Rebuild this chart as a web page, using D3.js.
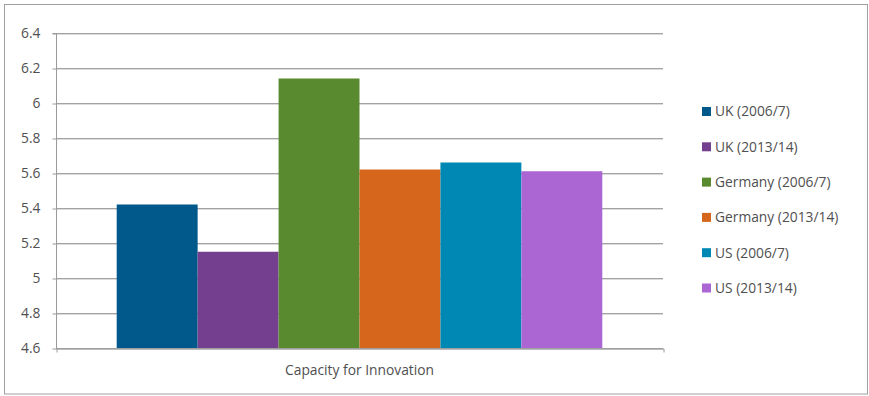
<!DOCTYPE html>
<html>
<head>
<meta charset="utf-8">
<script src="https://cdn.jsdelivr.net/npm/d3@7"></script>
<style>
  html, body { margin: 0; padding: 0; background: #fff; }
  svg text { font-family: "Open Sans", "Liberation Sans", sans-serif; fill: #505050; }
</style>
</head>
<body>
<svg id="chart" width="869" height="396"></svg>
<script>
// Capacity for Innovation scores by country and survey period
const categories = ["Capacity for Innovation"];
const seriesNames = ["UK (2006/7)", "UK (2013/14)", "Germany (2006/7)", "Germany (2013/14)", "US (2006/7)", "US (2013/14)"];
const seriesValues = [5.42, 5.15, 6.14, 5.62, 5.66, 5.61];
const seriesColors = ["#01588a", "#743f8e", "#5a8a2f", "#d6661c", "#0088b4", "#ac66d3"];
const yTicks = [4.6, 4.8, 5.0, 5.2, 5.4, 5.6, 5.8, 6.0, 6.2, 6.4];

const svg = d3.select("#chart");
const fontSize = "13.8px";

// outer chart frame
svg.append("rect")
  .attr("x", 4.5).attr("y", 4.5)
  .attr("width", 863).attr("height", 389.5)
  .attr("fill", "#fff").attr("stroke", "#a0a0a0").attr("stroke-width", 1);

const plot = { left: 56, right: 663, top: 33, bottom: 348 };

const y = d3.scaleLinear().domain([4.6, 6.4]).range([plot.bottom, plot.top]);
const x0 = d3.scaleBand().domain(categories).range([plot.left, plot.right])
  .paddingInner(0.2).paddingOuter(0.1);
const x1 = d3.scaleBand().domain(seriesNames).range([0, x0.bandwidth()]);

// horizontal gridlines (dark line with soft shadow)
const grid = svg.append("g");
yTicks.forEach(t => {
  const yy = Math.round(y(t));
  grid.append("line").attr("x1", plot.left).attr("x2", plot.right)
    .attr("y1", yy + 1.5).attr("y2", yy + 1.5).attr("stroke", "#dcdcdc");
  grid.append("line").attr("x1", plot.left).attr("x2", plot.right)
    .attr("y1", yy + 0.5).attr("y2", yy + 0.5).attr("stroke", "#a3a3a3");
});

// bars
const data = seriesNames.map((s, i) => ({ series: s, value: seriesValues[i], color: seriesColors[i], cat: categories[0] }));
svg.append("g").selectAll("rect").data(data).join("rect")
  .attr("x", d => x0(d.cat) + x1(d.series))
  .attr("width", x1.bandwidth())
  .attr("y", d => y(d.value))
  .attr("height", d => y(4.6) - y(d.value))
  .attr("fill", d => d.color);

// y axis
const yAxis = d3.axisLeft(y).tickValues(yTicks).tickSize(4).tickPadding(12)
  .tickFormat(d => d3.format("~g")(d));
const yg = svg.append("g").attr("transform", `translate(${plot.left + 0.5},0.5)`).call(yAxis);
yg.select(".domain").attr("stroke", "#9a9a9a").attr("d", `M-4,${plot.top}H0V${plot.bottom}`);
yg.selectAll(".tick line").attr("stroke", "#9a9a9a");
yg.selectAll(".tick text").style("font-size", fontSize).attr("fill", "#505050");

// x axis
const xAxis = d3.axisBottom(x0).tickSize(4).tickSizeOuter(4).tickPadding(12).tickValues([]);
const xg = svg.append("g").attr("transform", `translate(0.5,${plot.bottom + 0.5})`).call(xAxis);
xg.select(".domain").attr("stroke", "#9a9a9a");
svg.append("text")
  .attr("x", x0(categories[0]) + x0.bandwidth() / 2)
  .attr("y", 375)
  .attr("text-anchor", "middle")
  .style("font-size", fontSize)
  .text(categories[0]);

// legend
const legend = svg.append("g").attr("transform", "translate(702,0)");
const rowY = d3.scalePoint().domain(seriesNames).range([111.5, 288]);
const item = legend.selectAll("g").data(data).join("g")
  .attr("transform", d => `translate(0,${rowY(d.series)})`);
item.append("rect").attr("x", 0).attr("y", -4.5).attr("width", 9).attr("height", 9)
  .attr("fill", d => d.color);
item.append("text").attr("x", 13).attr("y", 0).attr("dy", "0.35em")
  .style("font-size", fontSize).text(d => d.series);
</script>
</body>
</html>
